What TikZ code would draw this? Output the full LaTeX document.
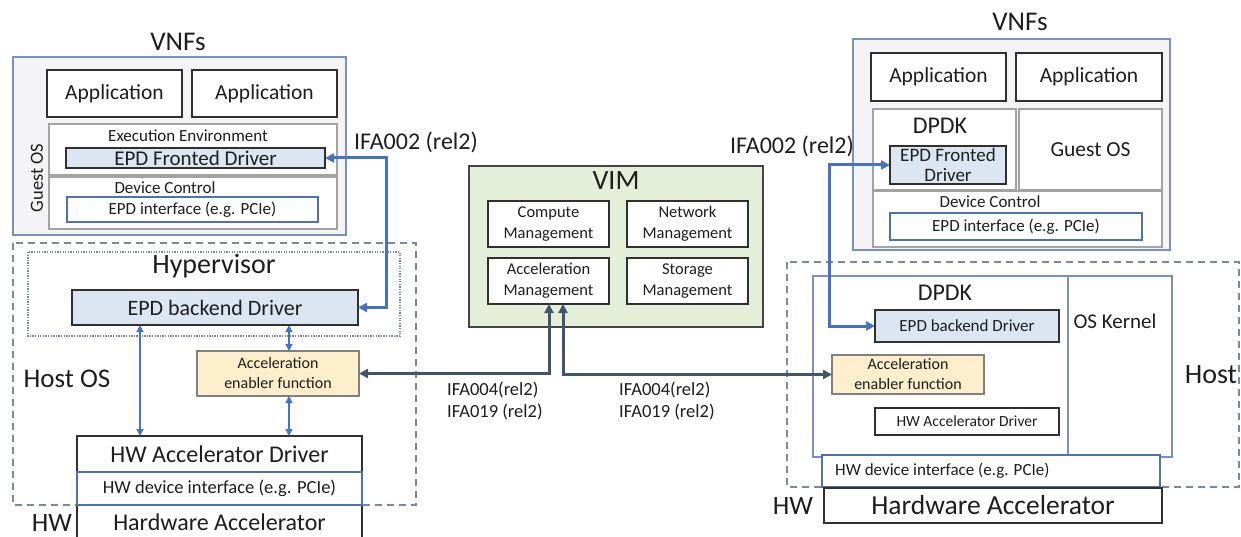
\documentclass[tikz,border=0pt]{standalone}
\usepackage{fontspec}
\setmainfont{Carlito}
\usetikzlibrary{arrows.meta}

\definecolor{txt}{HTML}{1E1E1E}
\definecolor{outerblue}{HTML}{7A90BF}
\definecolor{ifblue}{HTML}{4F71B0}
\definecolor{arrowblue}{HTML}{4472C4}
\definecolor{slate}{HTML}{44546A}
\definecolor{boxgray}{HTML}{A3A3A3}
\definecolor{boxblack}{HTML}{303030}
\definecolor{vnfbg}{HTML}{F4F4F6}
\definecolor{epdfill}{HTML}{DCE6F2}
\definecolor{aeffill}{HTML}{FDEFCB}
\definecolor{vimfill}{HTML}{E3EFD9}
\definecolor{dashcol}{HTML}{7D889E}

\newcommand\fsz[2]{\fontsize{#1}{#2}\selectfont}

\tikzset{
  base/.style={inner sep=0pt, outer sep=0pt, anchor=north west, text=txt, align=center},
  outerbox/.style={base, draw=outerblue, line width=1.3pt, fill=vnfbg},
  blackbox/.style={base, draw=boxblack, line width=1.4pt, fill=white},
  graybox/.style={base, draw=boxgray, line width=1.2pt, fill=white},
  ifbox/.style={base, draw=ifblue, line width=1.3pt, fill=white},
  epdbox/.style={base, draw=boxblack, line width=1.3pt, fill=epdfill},
  aefbox/.style={base, draw=gray, line width=1.2pt, fill=aeffill},
  vimbox/.style={base, draw=boxblack!90, line width=1.4pt, fill=vimfill},
  hostbox/.style={draw=dashcol, line width=1.3pt, dash pattern=on 7pt off 5pt},
  hypbox/.style={draw=dashcol, line width=1.2pt, dash pattern=on 1.3pt off 1.3pt},
  label/.style={inner sep=0pt, text=txt, align=center},
  bluelink/.style={draw=arrowblue, line width=3pt, {Triangle[length=9pt,width=9pt]}-{Triangle[length=9pt,width=9pt]}},
  thinlink/.style={draw=arrowblue, line width=1.1pt, {Triangle[length=7pt,width=7pt]}-{Triangle[length=7pt,width=7pt]}},
  slatelink/.style={draw=slate, line width=3pt, {Triangle[length=9pt,width=9pt]}-{Triangle[length=9pt,width=9pt]}},
}

\begin{document}
\begin{tikzpicture}[x=1pt,y=-1pt]
\useasboundingbox (0,0) rectangle (1241,537);

% ---------- left VNF ----------
\node[label, font=\fsz{27}{30}] (vnfsL) at (178,42) {VNFs};
\node[outerbox, minimum width=333pt, minimum height=178pt] (vnfL) at (13,57) {};
\node[blackbox, minimum width=135pt, minimum height=47pt, font=\fsz{21.5}{24}] (appL1) at (47,70) {Application};
\node[blackbox, minimum width=145pt, minimum height=47pt, font=\fsz{21.5}{24}] (appL2) at (192,70) {Application};
\node[graybox, minimum width=288pt, minimum height=51pt] (execL) at (49,124) {};
\node[label, font=\fsz{17}{20}] (execLt) at (188,136) {Execution Environment};
\node[epdbox, minimum width=259pt, minimum height=20pt, font=\fsz{21}{24}] (epdfL) at (66,148) {EPD Fronted Driver};
\node[graybox, minimum width=288pt, minimum height=52pt] (devL) at (49,177) {};
\node[label, font=\fsz{17}{20}] (devLt) at (165,188) {Device Control};
\node[ifbox, minimum width=251pt, minimum height=25pt, font=\fsz{17}{20}] (epdiL) at (67,197) {EPD interface (e.g. PCIe)};
\node[label, font=\fsz{18.5}{20}, rotate=90] (guestL) at (37,178) {Guest OS};

% ---------- left host ----------
\draw[hostbox] (13,243) rectangle (416,505);
\draw[hypbox] (28,252) rectangle (400,336);
\node[label, font=\fsz{28}{30}] (hypL) at (214,266) {Hypervisor};
\node[epdbox, minimum width=286pt, minimum height=35pt, font=\fsz{22}{24}] (epdbL) at (72,290) {EPD backend Driver};
\node[aefbox, minimum width=162pt, minimum height=45pt, font=\fsz{16}{20}] (aefL) at (197,351) {Acceleration\\enabler function};
\node[label, font=\fsz{27}{30}] (hostosL) at (67,379) {Host OS};
\node[blackbox, minimum width=285pt, minimum height=36pt, font=\fsz{24}{26}] (hwdrvL) at (77,436) {HW Accelerator Driver};
\node[blackbox, minimum width=285pt, minimum height=34pt, font=\fsz{24}{26}] (hwaccL) at (77,505) {Hardware Accelerator};
\node[ifbox, minimum width=285pt, minimum height=33pt, font=\fsz{18.5}{20}] (hwifL) at (77,472) {HW device interface (e.g. PCIe)};
\node[label, font=\fsz{26.5}{30}] (hwL) at (52,523) {HW};

\draw[thinlink] ([xshift=68pt]epdbL.south west) -- ([xshift=63pt]hwdrvL.north west);
\draw[thinlink] ([xshift=92pt]aefL.north west |- epdbL.south) -- ([xshift=92pt]aefL.north west);
\draw[thinlink] ([xshift=92pt]aefL.south west) -- ([xshift=92pt]aefL.south west |- hwdrvL.north);

\node[label, font=\fsz{24}{26}] (ifa2L) at (416,142) {IFA002 (rel2)};
\draw[bluelink] (epdfL.east) -- ++(61,0) |- (epdbL.east);

% ---------- VIM ----------
\node[vimbox, minimum width=294pt, minimum height=161pt] (vim) at (469,166) {};
\node[label, font=\fsz{28}{30}] (vimt) at (616,181) {VIM};
\node[blackbox, minimum width=121pt, minimum height=46pt, font=\fsz{16.5}{21}] (cm) at (488,201) {Compute\\Management};
\node[blackbox, minimum width=121pt, minimum height=46pt, font=\fsz{16.5}{21}] (nm) at (627,201) {Network\\Management};
\node[blackbox, minimum width=121pt, minimum height=46pt, font=\fsz{16.5}{21}] (am) at (488,258) {Acceleration\\Management};
\node[blackbox, minimum width=121pt, minimum height=46pt, font=\fsz{16.5}{21}] (sm) at (627,258) {Storage\\Management};

% ---------- right VNF ----------
\node[label, font=\fsz{27}{30}] (vnfsR) at (1020,22) {VNFs};
\node[outerbox, minimum width=317pt, minimum height=211pt] (vnfR) at (853,39) {};
\node[blackbox, minimum width=135pt, minimum height=48pt, font=\fsz{21.5}{24}] (appR1) at (871,53) {Application};
\node[blackbox, minimum width=146pt, minimum height=48pt, font=\fsz{21.5}{24}] (appR2) at (1016,53) {Application};
\node[graybox, minimum width=143pt, minimum height=81pt] (dpdkR) at (873,109) {};
\node[label, font=\fsz{24}{26}] (dpdkRt) at (940,126) {DPDK};
\node[graybox, minimum width=143pt, minimum height=81pt, font=\fsz{21.5}{24}] (guestR) at (1019,109) {Guest OS};
\node[epdbox, minimum width=116pt, minimum height=38pt, font=\fsz{19}{20}] (epdfR) at (890,146) {EPD Fronted\\Driver};
\node[graybox, minimum width=289pt, minimum height=56pt] (devR) at (873,191) {};
\node[label, font=\fsz{17}{20}] (devRt) at (990,202) {Device Control};
\node[ifbox, minimum width=252pt, minimum height=27pt, font=\fsz{17}{20}] (epdiR) at (890,213) {EPD interface (e.g. PCIe)};

% ---------- right host ----------
\draw[hostbox] (787,262) rectangle (1239,487);
\node[base, draw=outerblue, line width=1.4pt, fill=white, minimum width=359pt, minimum height=181pt] (kernR) at (813,276) {};
\draw[outerblue, line width=1.4pt] ([xshift=255pt]kernR.north west) -- ([xshift=255pt]kernR.south west);
\node[label, font=\fsz{24}{26}] (dpdkR2) at (945,293) {DPDK};
\node[label, font=\fsz{21}{24}] (oskR) at (1115,321) {OS Kernel};
\node[epdbox, minimum width=184pt, minimum height=32pt, font=\fsz{17}{20}] (epdbR) at (875,310) {EPD backend Driver};
\node[aefbox, minimum width=152pt, minimum height=39pt, font=\fsz{16}{20}] (aefR) at (832,355) {Acceleration\\enabler function};
\node[blackbox, minimum width=184pt, minimum height=27pt, font=\fsz{15.5}{18}] (hwdrvR) at (875,408) {HW Accelerator Driver};
\node[label, font=\fsz{28}{30}] (hostR) at (1211,375) {Host};
\node[base, draw=ifblue, line width=1.3pt, fill=white, minimum width=338pt, minimum height=32pt] (hwifR) at (822,455) {};
\node[label, anchor=west, font=\fsz{17}{20}] (hwifRt) at (835,471) {HW device interface (e.g. PCIe)};
\node[blackbox, minimum width=338pt, minimum height=35pt, font=\fsz{27.5}{30}] (hwaccR) at (824,488) {Hardware Accelerator};
\node[label, font=\fsz{26.5}{30}] (hwR) at (793,506) {HW};

\node[label, font=\fsz{24}{26}] (ifa2R) at (792,146) {IFA002 (rel2)};
\draw[bluelink] (epdfR.west) -- ++(-61,0) |- (epdbR.west);

% ---------- VIM interfaces ----------
\draw[slatelink] ([xshift=61pt]am.south west) |- (aefL.east);
\draw[slatelink] ([xshift=75pt]am.south west) |- (aefR.west);
\node[label, anchor=west, align=left, font=\fsz{18.5}{22}] (ifa4L) at (447,401) {IFA004(rel2)\\IFA019 (rel2)};
\node[label, anchor=west, align=left, font=\fsz{18.5}{22}] (ifa4R) at (619,401) {IFA004(rel2)\\IFA019 (rel2)};
\end{tikzpicture}
\end{document}
